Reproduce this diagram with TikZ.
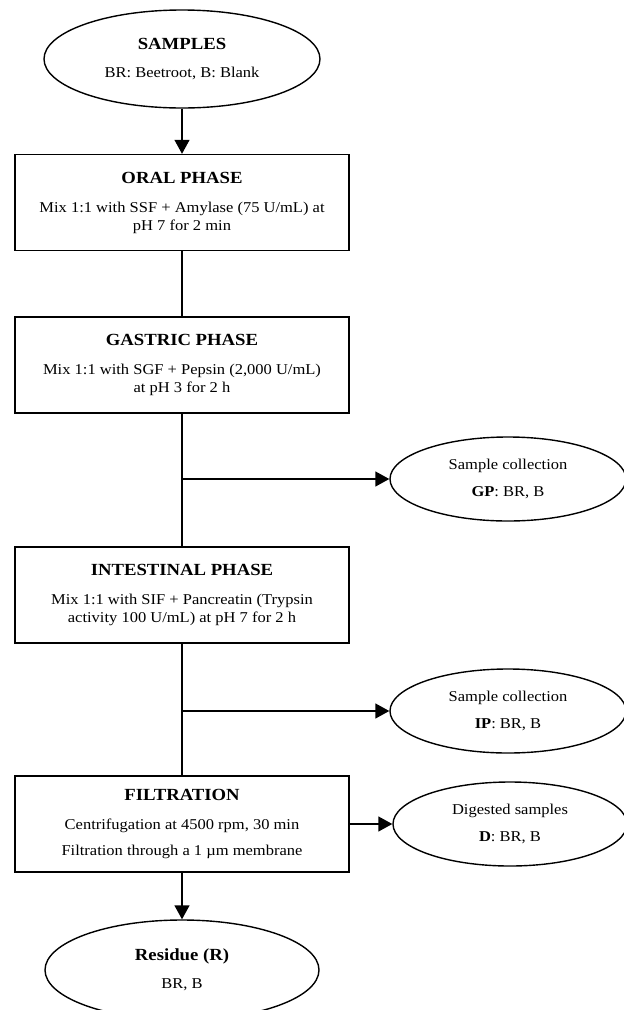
\documentclass[tikz,border=0pt]{standalone}
\usepackage{fontspec}
\setmainfont[FakeStretch=1.1]{Liberation Serif}
\usetikzlibrary{shapes.geometric,arrows.meta}
\newcommand\bodyf{\fontsize{15}{18}\selectfont}
\newcommand\titf{\fontsize{17}{18}\selectfont\bfseries}
\begin{document}
\begin{tikzpicture}[x=1pt,y=-1pt,line width=1.4pt,
  box/.style={draw, rectangle, minimum width=334pt, minimum height=96pt, inner sep=0pt, align=center, font=\bodyf},
  oval/.style={draw, ellipse, inner sep=0pt, align=center, font=\bodyf},
  smalloval/.style={oval, minimum width=236pt, minimum height=84pt},
  arr/.style={-{Triangle[length=14pt,width=15pt]}}]
\useasboundingbox (0,0) rectangle (624,1010);
\clip (0,0) rectangle (624,1010);
\node[oval, minimum width=276pt, minimum height=98pt] (samples) at (182,59)
  {{\titf SAMPLES}\\[10pt] BR: Beetroot, B: Blank};
\node[box] (oral) at (182,202.5)
  {{\titf ORAL PHASE}\\[11pt] Mix 1:1 with SSF + Amylase (75 U/mL) at\\ pH 7 for 2 min};
\node[box] (gastric) at (182,365)
  {{\titf GASTRIC PHASE}\\[11pt] Mix 1:1 with SGF + Pepsin (2,000 U/mL)\\ at pH 3 for 2 h};
\node[box] (intest) at (182,595)
  {{\titf INTESTINAL PHASE}\\[11pt] Mix 1:1 with SIF + Pancreatin (Trypsin\\ activity 100 U/mL) at pH 7 for 2 h};
\node[box] (filt) at (182,824)
  {{\titf FILTRATION}\\[11pt] Centrifugation at 4500 rpm, 30 min\\[8pt] Filtration through a 1 µm membrane};
\node[smalloval] (gp) at (508,479) {Sample collection\\[9pt] \textbf{GP}: BR, B};
\node[smalloval] (ip) at (508,711) {Sample collection\\[9pt] \textbf{IP}: BR, B};
\node[smalloval, minimum width=234pt] (dig) at (510,824) {Digested samples\\[9pt] \textbf{D}: BR, B};
\node[oval, minimum width=274pt, minimum height=100pt] (res) at (182,970)
  {{\titf Residue (R)}\\[10pt] BR, B};
\coordinate (b1) at (gastric.south |- gp.west);
\coordinate (b2) at (intest.south |- ip.west);
\draw[arr] (samples) -- (oral);
\draw (oral) -- (gastric);
\draw (gastric) -- (intest);
\draw (intest) -- (filt);
\draw[arr] (b1) -- (gp);
\draw[arr] (b2) -- (ip);
\draw[arr] (filt) -- (dig);
\draw[arr] (filt) -- (res);
\end{tikzpicture}
\end{document}
